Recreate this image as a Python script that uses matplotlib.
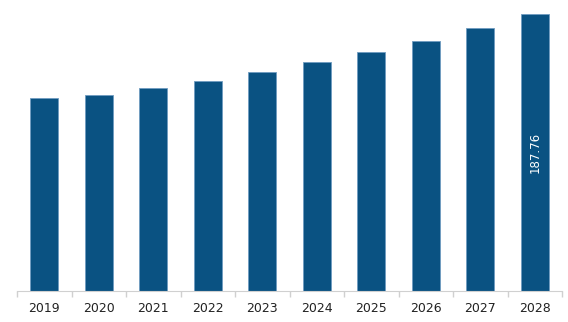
import matplotlib.pyplot as plt
import numpy as np

years = ['2019', '2020', '2021', '2022', '2023', '2024', '2025', '2026', '2027', '2028']
values = [130.7, 133.0, 137.7, 142.5, 148.6, 155.0, 162.0, 169.6, 178.3, 187.76]

fig = plt.figure(figsize=(5.68, 3.22), dpi=100)
ax = fig.add_axes([17 / 568, (322 - 290.5) / 322, 545 / 568, 280 / 322])

x = np.arange(len(years))
ax.bar(x, values, width=0.51, color='#0a5282', edgecolor='#6f9cc0', linewidth=0.6)

ax.text(x[-1], values[-1] / 2, '187.76', rotation=90, color='white',
        ha='center', va='center', fontsize=8.5)

ax.set_xlim(-0.5, len(years) - 0.5)
ax.set_ylim(0, values[-1] * 280 / 276.5)
ax.set_xticks(np.arange(-0.5, len(years)), minor=False)
ax.set_xticklabels([])
ax.set_xticks(x, minor=True)
ax.set_xticklabels(years, minor=True, fontsize=9, color='#222222')
ax.tick_params(axis='x', which='major', length=4, color='#d0d0d0', width=1)
ax.tick_params(axis='x', which='minor', length=0, pad=8)
ax.set_yticks([])
for s in ['top', 'right', 'left']:
    ax.spines[s].set_visible(False)
ax.spines['bottom'].set_color('#d0d0d0')

fig.savefig('out.png', dpi=100)
